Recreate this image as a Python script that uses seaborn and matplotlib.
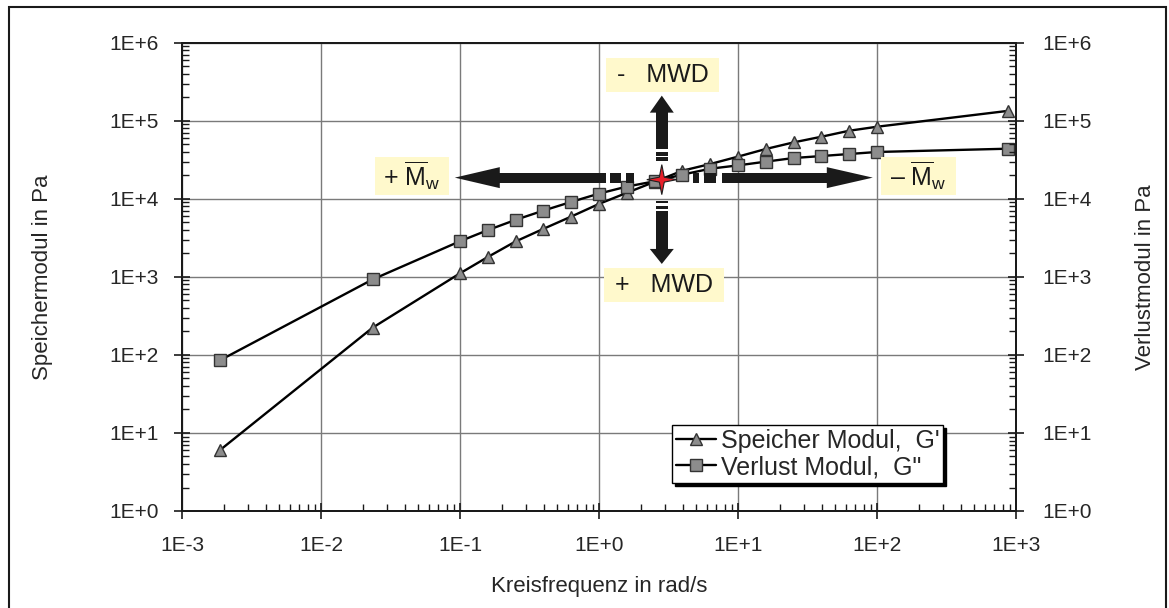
import numpy as np
import matplotlib
matplotlib.use('Agg')
import matplotlib.pyplot as plt
import seaborn as sns
from matplotlib.patches import Polygon, Rectangle
from matplotlib.transforms import IdentityTransform
from matplotlib.ticker import LogLocator, FuncFormatter, NullFormatter

# Kreisfrequenz in rad/s
freq = [0.00187, 0.0235, 0.1, 0.158, 0.251, 0.398, 0.631, 1.0, 1.58, 2.51,
        3.98, 6.31, 10.0, 15.8, 25.1, 39.8, 63.1, 100.0, 880.0]
# Speicher Modul G' in Pa
g_storage = [6.0, 223, 1110, 1790, 2840, 4120, 5920, 8600, 11900, 16500,
             22900, 27900, 34700, 43400, 52800, 62400, 74500, 83800, 134000]
# Verlust Modul G'' in Pa
g_loss = [85, 926, 2860, 3960, 5370, 7060, 9120, 11660, 14320, 16750,
          20400, 24300, 26800, 29900, 33300, 35300, 37500, 39800, 43850]
# Schnittpunkt G' = G''
cross_x = 2.83
cross_y = 17600

label_storage = "Speicher Modul,  G'"
label_loss = 'Verlust Modul,  G"'

sns.set_style('ticks')
plt.rcParams['font.family'] = ['Liberation Sans', 'DejaVu Sans']
plt.rcParams['mathtext.fontset'] = 'custom'
plt.rcParams['mathtext.rm'] = 'Liberation Sans'
plt.rcParams['mathtext.it'] = 'Liberation Sans'

W, H = 1169, 608
fig = plt.figure(figsize=(W / 100, H / 100), dpi=100)
ax = fig.add_axes([182 / W, 1 - 511 / H, (1016 - 182) / W, (511 - 42.7) / H])

line_kw = dict(color='black', linewidth=1.7, markersize=9,
               markerfacecolor='#8c8c8c', markeredgecolor='#333333',
               markeredgewidth=1.0, estimator=None, sort=False, ax=ax)
sns.lineplot(x=freq, y=g_storage, marker='^', label=label_storage, **line_kw)
sns.lineplot(x=freq, y=g_loss, marker='s', label=label_loss, **line_kw)

ax.set_xscale('log')
ax.set_yscale('log')
ax.set_xlim(1e-3, 1e3)
ax.set_ylim(1e0, 1e6)

fmt = FuncFormatter(lambda v, p: f"1E{int(round(np.log10(v))):+d}")
ax2 = ax.twinx()
ax2.set_yscale('log')
ax2.set_ylim(1e0, 1e6)

for a in (ax, ax2):
    a.yaxis.set_major_locator(LogLocator(base=10, numticks=10))
    a.yaxis.set_minor_locator(LogLocator(base=10, subs=np.arange(2, 10), numticks=10))
    a.yaxis.set_major_formatter(fmt)
    a.yaxis.set_minor_formatter(NullFormatter())
ax.xaxis.set_major_locator(LogLocator(base=10, numticks=10))
ax.xaxis.set_minor_locator(LogLocator(base=10, subs=np.arange(2, 10), numticks=10))
ax.xaxis.set_major_formatter(fmt)
ax.xaxis.set_minor_formatter(NullFormatter())

ax.grid(True, which='major', color='#7a7a7a', linewidth=1.0)
for a in (ax, ax2):
    for s in a.spines.values():
        s.set_color('#1a1a1a')
        s.set_linewidth(1.4)
ax.tick_params(which='major', direction='inout', length=12, width=1.2,
               labelsize=15, color='#1a1a1a')
ax.tick_params(which='minor', direction='in', length=5, width=1.0, color='#1a1a1a')
ax.tick_params(axis='x', which='major', pad=12)
ax.tick_params(axis='y', which='major', pad=11)
ax.tick_params(top=False, right=False, which='both')
ax2.tick_params(which='major', direction='inout', length=12, width=1.2,
                labelsize=15, pad=13, color='#1a1a1a')
ax2.tick_params(which='minor', direction='in', length=5, width=1.0, color='#1a1a1a')

ax.set_xlabel('Kreisfrequenz in rad/s', fontsize=16, labelpad=15)
ax.set_ylabel('Speichermodul in Pa', fontsize=16, labelpad=40)
ax2.set_ylabel('Verlustmodul in Pa', fontsize=16, labelpad=31)

leg = ax.legend(loc='lower left', bbox_to_anchor=(0.5875, 0.06), fontsize=18,
                frameon=True, fancybox=False, edgecolor='black', framealpha=1,
                shadow={'color': 'black', 'alpha': 1}, handlelength=1.6,
                handletextpad=0.2, borderpad=0.15, labelspacing=0.1,
                borderaxespad=0)
leg.get_frame().set_linewidth(1.0)

# Pfeile und Beschriftungen um den Schnittpunkt (Pixelkoordinaten)
sx, sy = ax.transData.transform((cross_x, cross_y))
arrow_col = '#1a1a1a'


def poly(pts, fc=arrow_col, ec='none', lw=0, z=6):
    p = Polygon(pts, closed=True, transform=IdentityTransform(), facecolor=fc,
                edgecolor=ec, linewidth=lw, clip_on=False, zorder=z)
    ax.add_artist(p)


def hrect(x0, x1, yc, hh):
    poly([(x0, yc - hh), (x1, yc - hh), (x1, yc + hh), (x0, yc + hh)])


def vrect(y0, y1, xc, hw):
    poly([(xc - hw, y0), (xc + hw, y0), (xc + hw, y1), (xc - hw, y1)])


yc = sy + 2
# links
poly([(sx - 207, yc), (sx - 162, yc + 10.5), (sx - 162, yc - 10.5)])
hrect(sx - 163, sx - 56, yc, 5)
hrect(sx - 52, sx - 41, yc, 5)
hrect(sx - 36, sx - 28, yc, 5)
# rechts
hrect(sx + 31, sx + 37, yc, 5)
hrect(sx + 42, sx + 54, yc, 5)
hrect(sx + 60, sx + 166, yc, 5)
poly([(sx + 211, yc), (sx + 165, yc + 10.5), (sx + 165, yc - 10.5)])
# oben
poly([(sx, sy + 84), (sx - 12, sy + 67), (sx + 12, sy + 67)])
vrect(sy + 30.7, sy + 68, sx, 6)
vrect(sy + 24, sy + 27.3, sx, 6)
vrect(sy + 18.3, sy + 22.3, sx, 6)
# unten
vrect(sy - 23.7, sy - 21, sx, 6)
vrect(sy - 29.3, sy - 26, sx, 6)
vrect(sy - 70, sy - 31, sx, 6)
poly([(sx, sy - 84.3), (sx - 12, sy - 69.3), (sx + 12, sy - 69.3)])

# roter Stern
ro, ri = 15, 3.5
star = []
for k in range(8):
    ang = np.pi / 2 * (k // 2) + (np.pi / 4 if k % 2 else 0)
    r = ro if k % 2 == 0 else ri
    star.append((sx + r * np.cos(ang), sy + r * np.sin(ang)))
poly(star, fc='#e8202a', ec='#202020', lw=0.8, z=7)

# gelbe Textfelder
boxes = [
    (-249.7, 3.7, 74, 38.7, r'+ $\overline{\mathrm{M}}_{\mathrm{w}}$', 18),
    (256.6, 3.7, 74.7, 38.7, r'– $\overline{\mathrm{M}}_{\mathrm{w}}$', 18),
    (0.6, 104.5, 112.7, 34.4, '-   MWD', 18),
    (2.3, -105.3, 120, 34.7, '+   MWD', 18),
]
for dx, dy, bw, bh, txt, fs in boxes:
    cx, cy = sx + dx, sy + dy
    ax.add_artist(Rectangle((cx - bw / 2, cy - bh / 2), bw, bh,
                            transform=IdentityTransform(), facecolor='#fff9cc',
                            edgecolor='none', clip_on=False, zorder=6))
    ax.text(cx, cy, txt, transform=IdentityTransform(), ha='center', va='center',
            fontsize=fs, color='#1a1a1a', zorder=8, clip_on=False)

# Rahmen um die ganze Grafik
fig.add_artist(Rectangle((9 / W, -0.01), (1166 - 9) / W, 1 - 7 / H + 0.01,
                         transform=fig.transFigure, fill=False,
                         edgecolor='#1a1a1a', linewidth=1.5))

fig.savefig('out.png', dpi=100)
